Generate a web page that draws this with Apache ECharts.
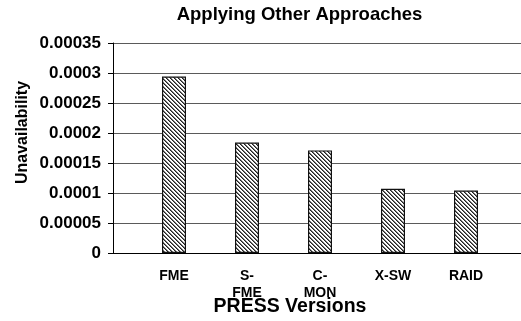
<!DOCTYPE html>
<html>
<head>
<meta charset="utf-8">
<script src="https://cdn.jsdelivr.net/npm/echarts@6/dist/echarts.min.js"></script>
<style>
    html, body { margin: 0; padding: 0; background: #fff; }
    #chart { width: 521px; height: 321px; }
</style>
</head>
<body>
<div id="chart"></div>
<script>
const categories = ['FME', 'S-\nFME', 'C-\nMON', 'X-SW', 'RAID'];
const unavailability = [0.000294, 0.000184, 0.000171, 0.000107, 0.000104];
const yTickLabels = ['0', '0.00005', '0.0001', '0.00015', '0.0002', '0.00025', '0.0003', '0.00035'];
const yStep = 0.00005;

const fontName = '"Liberation Sans", Arial, sans-serif';

// hatch pattern: diagonal lines top-left to bottom-right
function makeHatch() {
    const c = document.createElement('canvas');
    c.width = 4;
    c.height = 4;
    const ctx = c.getContext('2d');
    ctx.fillStyle = '#fff';
    ctx.fillRect(0, 0, 4, 4);
    for (let y = 0; y < 4; y++) {
        for (let x = 0; x < 4; x++) {
            const d = ((x - y) % 4 + 4) % 4;
            if (d === 0) {
                ctx.fillStyle = '#222';
                ctx.fillRect(x, y, 1, 1);
            } else if (d === 1) {
                ctx.fillStyle = '#777';
                ctx.fillRect(x, y, 1, 1);
            }
        }
    }
    return c;
}

const chart = echarts.init(document.getElementById('chart'));

const option = {
    animation: false,
    backgroundColor: '#fff',
    grid: [
        { left: 113, right: 0, top: 43, bottom: 68 },
        { left: 137.5, right: 18.5, top: 43, bottom: 68 }
    ],
    xAxis: [
        {
            gridIndex: 0,
            type: 'value',
            min: 0,
            max: 1,
            axisLine: { show: true, onZero: false, lineStyle: { color: '#000', width: 1 } },
            axisTick: { show: false },
            axisLabel: { show: false },
            splitLine: { show: false }
        },
        {
            gridIndex: 1,
            type: 'category',
            data: categories,
            axisLine: { show: false },
            axisTick: { show: false },
            axisLabel: {
                margin: 15,
                color: '#000',
                fontFamily: fontName,
                fontWeight: 'bold',
                fontSize: 14,
                lineHeight: 17
            }
        }
    ],
    yAxis: [
        {
            gridIndex: 0,
            type: 'value',
            min: 0,
            max: 0.00035,
            interval: yStep,
            axisLine: { show: true, lineStyle: { color: '#000', width: 1 } },
            axisTick: { show: true, length: 5, lineStyle: { color: '#000' } },
            axisLabel: {
                margin: 12,
                color: '#000',
                fontFamily: fontName,
                fontWeight: 'bold',
                fontSize: 17,
                formatter: v => yTickLabels[Math.round(v / yStep)]
            },
            splitLine: { show: true, lineStyle: { color: '#5a5a5a', width: 1 } }
        },
        {
            gridIndex: 1,
            type: 'value',
            min: 0,
            max: 0.00035,
            interval: yStep,
            show: false
        }
    ],
    graphic: [
        {
            type: 'text',
            x: 299.5,
            y: 15,
            style: {
                text: 'Applying Other Approaches',
                font: 'bold 18.5px ' + fontName,
                fill: '#000',
                align: 'center',
                verticalAlign: 'middle'
            }
        },
        {
            type: 'text',
            x: 290,
            y: 306.5,
            style: {
                text: 'PRESS Versions',
                font: 'bold 19.5px ' + fontName,
                fill: '#000',
                align: 'center',
                verticalAlign: 'middle'
            }
        },
        {
            type: 'text',
            x: 23,
            y: 132.5,
            rotation: Math.PI / 2,
            style: {
                text: 'Unavailability',
                font: 'bold 16px ' + fontName,
                fill: '#000',
                align: 'center',
                verticalAlign: 'middle'
            }
        }
    ],
    series: [
        {
            type: 'bar',
            xAxisIndex: 1,
            yAxisIndex: 1,
            data: unavailability,
            barWidth: 24,
            itemStyle: {
                color: { image: makeHatch(), repeat: 'repeat' },
                borderColor: '#111',
                borderWidth: 1.2
            }
        }
    ]
};

chart.setOption(option);
</script>
</body>
</html>
